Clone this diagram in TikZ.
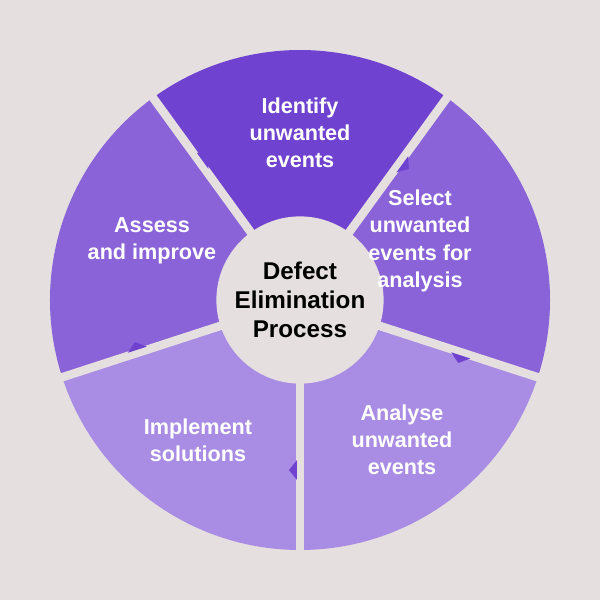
\documentclass[tikz,border=0pt]{standalone}
\usepackage{fontspec}
\setmainfont{Liberation Sans}
\usetikzlibrary{calc}
\definecolor{bgc}{HTML}{E5E0DF}
\definecolor{stepa}{HTML}{6F42CF}
\definecolor{stepb}{HTML}{8A63D9}
\definecolor{stepc}{HTML}{A98CE3}
\tikzset{
	steplabel/.style={text=white,align=center,font=\fontsize{12.3}{15.5}\selectfont\bfseries},
	hublabel/.style={circle,fill=bgc,minimum size=3.2cm,align=center,font=\fontsize{13.8}{16.5}\selectfont\bfseries},
	gapline/.style={line width=0.17cm,bgc}
}
\begin{document}
\begin{tikzpicture}
	\fill[bgc] (-6,-6) rectangle (6,6);
	\useasboundingbox (-6,-6) rectangle (6,6);
	% sectors
	\foreach \a/\c in {54/stepa,-18/stepb,-90/stepc,198/stepc,126/stepb}
	  \fill[\c] (0,0) -- (\a+72:5) arc[start angle=\a+72,end angle=\a,radius=5] -- cycle;
	% gaps
	\foreach \a in {54,-18,-90,198,126}
	  \draw[gapline] (0,0) -- (\a:5.1);
	% arrow tips
	\foreach \a in {54,-18,-90,198,126}
	  \fill[stepa] ($(\a:3.4)+(\a-90:0.22)$) -- ($(\a:3.4)+(\a:0.2)+(\a-90:0.06)$) -- ($(\a:3.4)+(\a:-0.2)+(\a-90:0.06)$) -- cycle;
	\node[hublabel] (hub) at (0,0) {Defect\\Elimination\\Process};
	\node[steplabel] (identify) at (0,3.34) {Identify\\unwanted\\events};
	\node[steplabel] (select) at (2.4,1.18) {Select\\unwanted\\events for\\analysis};
	\node[steplabel] (analyse) at (2.04,-2.8) {Analyse\\unwanted\\events};
	\node[steplabel] (implement) at (-2.04,-2.8) {Implement\\solutions};
	\node[steplabel] (assess) at (-2.96,1.18) {Assess\\and improve};
\end{tikzpicture}
\end{document}
